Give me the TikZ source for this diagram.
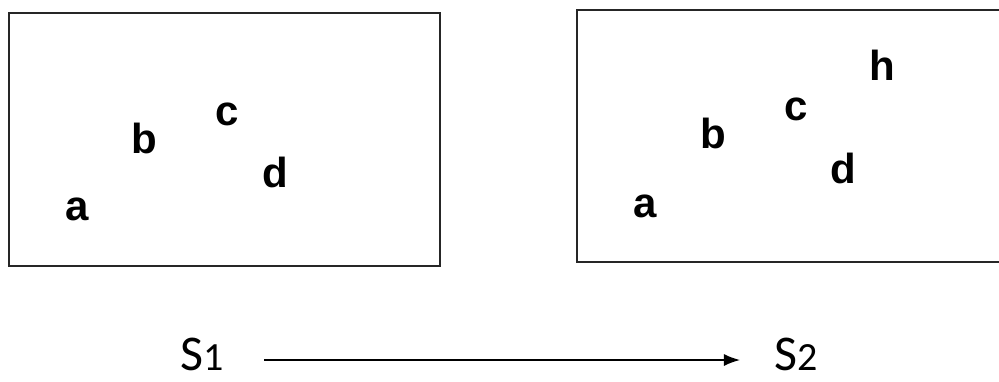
\documentclass[tikz,border=0pt]{standalone}
\usepackage{fontspec}
\setmainfont{Liberation Sans}
\newfontfamily\statefont{Carlito}
\usepackage{tikz}
\usetikzlibrary{arrows.meta, positioning}

\begin{document}
\begin{tikzpicture}[
  x=0.5pt, y=-0.5pt,
  frame/.style={
    draw=black!85,
    line width=1pt,
    inner sep=0pt
  },
  elem/.style={
    font=\fontsize{21}{25}\selectfont\bfseries,
    anchor=base,
    inner sep=0pt
  },
  statelbl/.style={
    font=\statefont\fontsize{25}{29}\selectfont,
    anchor=base,
    inner sep=0pt
  },
  trans/.style={
    -{Latex[length=8pt, width=6pt]},
    line width=0.75pt
  }
]

\clip (0,0) rectangle (999,381);

% -------------------------------------------------------------------
% first set
% -------------------------------------------------------------------
\node[frame, minimum width=215.5pt, minimum height=126.5pt] (box1) at (224.5,139.5) {};

\node[elem] (a1) at (77,220) {a};
\node[elem] (b1) at (144,153) {b};
\node[elem] (c1) at (227,125) {c};
\node[elem] (d1) at (275,187) {d};

% -------------------------------------------------------------------
% second set (runs past the right edge)
% -------------------------------------------------------------------
\node[frame, minimum width=220pt, minimum height=126pt] (box2) at (797,136) {};

\node[elem] (a2) at (645,217) {a};
\node[elem] (b2) at (713,148) {b};
\node[elem] (c2) at (796,120) {c};
\node[elem] (d2) at (843,183) {d};
\node[elem] (h2) at (882,80) {h};

% states
\node[statelbl] (s1) at (202,370) {S{\fontsize{20}{24}\selectfont 1}};
\node[statelbl] (s2) at (796,370) {S{\fontsize{20}{24}\selectfont 2}};

\draw[trans] ([xshift=20pt, yshift=5pt]s1.base east) -- ([xshift=-17pt, yshift=5pt]s2.base west);

\end{tikzpicture}
\end{document}
